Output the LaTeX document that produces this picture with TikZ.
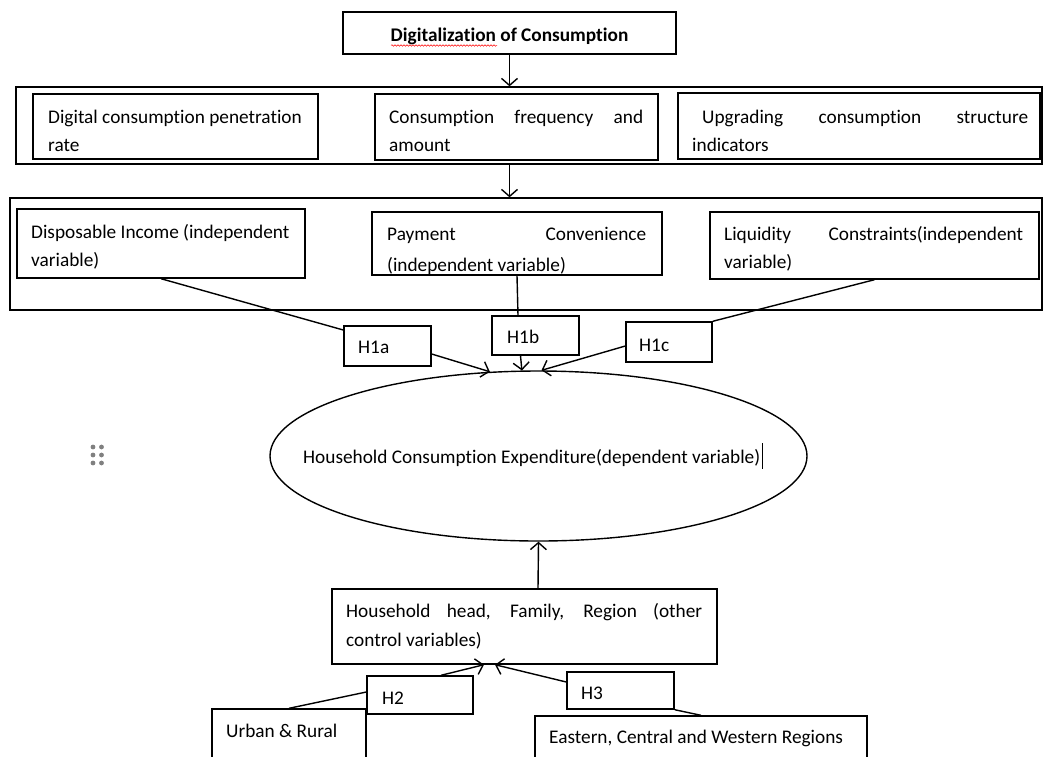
\documentclass[tikz,border=0pt]{standalone}
\usepackage{fontspec}
\setmainfont{Carlito}[Ligatures={NoCommon}]
\usetikzlibrary{arrows.meta,fit,shapes.geometric,decorations.pathmorphing}
\begin{document}
\begin{tikzpicture}[x=1pt,y=-1pt,
  bx/.style={draw, line width=1.4pt, inner sep=0pt},
  txt/.style={anchor=base west, inner sep=0pt, font=\fontsize{19.3}{22}\selectfont},
  hl/.style={line width=1.4pt},
  arr/.style={line width=1.4pt, -{Straight Barb[length=7pt,width=16pt,line width=1.4pt]}},
  dot/.style={circle, fill=black!50, inner sep=0pt, minimum size=4.8pt}
]
\useasboundingbox (0,0) rectangle (1043,756);
\clip (0,0) rectangle (1043,756);

% ---------- boxes ----------
\node[bx, fit={(343,12) (676,54)}] (top) {};
\node[bx, fit={(16,87) (1042,164)}] (row1) {};
\node[bx, fit={(33,94) (318,159)}] (A) {};
\node[bx, fit={(375,94) (658,160)}] (B) {};
\node[bx, fit={(678,93) (1040,159)}] (C) {};
\node[bx, fit={(10,198) (1042,310)}] (row2) {};
\node[bx, fit={(17,209) (305,278)}] (D) {};
\node[bx, fit={(372,212) (662,275)}] (E) {};
\node[bx, fit={(710,212) (1039,279)}] (F) {};
\node[bx, fit={(344,326) (431,366)}] (h1a) {};
\node[bx, fit={(492,316) (579,355)}] (h1b) {};
\node[bx, fit={(626,322) (712,362)}] (h1c) {};
\node[draw, ellipse, line width=1.4pt, inner sep=0pt, minimum width=537pt, minimum height=170pt] (ell) at (538.5,456) {};
\node[bx, fit={(332,589) (717,664)}] (G) {};
\node[bx, fit={(367,676) (473,714)}] (h2) {};
\node[bx, fit={(567,672) (674,709)}] (h3) {};
\node[bx, fit={(212,709) (366,775)}] (U) {};
\node[bx, fit={(535,716) (867,775)}] (W) {};

% ---------- texts ----------
\node[txt, anchor=base, font=\fontsize{19.3}{22}\selectfont\bfseries] (ttop) at (509.5,41) {Digitalization of Consumption};
\draw[red, line width=0.5pt, decorate, decoration={snake, amplitude=0.8pt, segment length=3pt}] (391,45.5) -- (497,45.5);

\node[txt] (a1) at (48,123) {Digital consumption penetration};
\node[txt] (a2) at (48,151) {rate};
\node[txt] (b1) at (389,123) {\makebox[254pt][s]{Consumption frequency and}};
\node[txt] (b2) at (389,151) {amount};
\node[txt] (c1) at (702,123) {\makebox[326pt][s]{Upgrading consumption structure}};
\node[txt] (c2) at (692,151) {indicators};

\node[txt] (d1) at (31,238) {Disposable Income (independent};
\node[txt] (d2) at (31,266) {variable)};
\node[txt] (e1) at (387,240) {\makebox[259pt][s]{Payment Convenience}};
\begin{scope}
\clip (373,213) rectangle (661,274.3);
\node[txt] (e2) at (387,271.5) {(independent variable)};
\end{scope}
\node[txt] (f1) at (724,240) {\makebox[299pt][s]{Liquidity Constraints(independent}};
\node[txt] (f2) at (724,268) {variable)};

\node[txt] (t1a) at (358,353) {H1a};
\node[txt] (t1b) at (507,343) {H1b};
\node[txt] (t1c) at (639,351) {H1c};

\node[txt] (tell) at (303,463) {Household Consumption Expenditure(dependent variable)};
\draw[line width=1pt] (762,443) -- (762,469);

\node[txt] (g1) at (346,617) {\makebox[356pt][s]{Household head, Family, Region (other}};
\node[txt] (g2) at (346,646) {control variables)};
\node[txt] (t2) at (382,704) {H2};
\node[txt] (t3) at (581,699) {H3};
\node[txt] (tu) at (226,737) {Urban \& Rural};
\node[txt] (tw) at (549,743) {Eastern, Central and Western Regions};

% ---------- drag handle dots ----------
\foreach \i/\x/\y in {1/93/447,2/101.5/447,3/93/455,4/101.5/455,5/93/463,6/101.5/463}
  \node[dot] (dot\i) at (\x,\y) {};

% ---------- connectors ----------
\draw[arr] (top.south) -- (top.south |- row1.north);
\draw[arr] (top.south |- row1.south) -- (top.south |- row2.north);

\draw[hl] (D.south) -- ([yshift=16pt]h1a.west);
\draw[arr] ([yshift=-8pt]h1a.east) -- (ell.120.4);
\draw[hl] (E.south) -- ([xshift=-17.5pt]h1b.north);
\draw[arr] ([xshift=-15pt]h1b.south) -- (ell.101.8);
\draw[hl] (F.south) -- (h1c.north east);
\draw[arr] ([yshift=-4pt]h1c.west) -- (ell.88);

\draw[arr] ([xshift=13.5pt]G.north) -- (ell.south);

\draw[hl] (U.north) -- ([yshift=3pt]h2.west);
\draw[arr] ([xshift=21pt]h2.north) -- ([xshift=-40.5pt]G.south);
\draw[hl] (W.north) -- (h3.south east);
\draw[arr] ([yshift=8.5pt]h3.west) -- ([xshift=-29.5pt]G.south);
\end{tikzpicture}
\end{document}
